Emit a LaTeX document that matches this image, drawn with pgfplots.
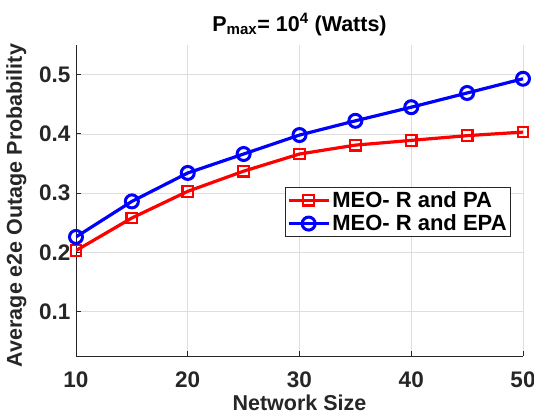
\documentclass[border=0pt]{standalone}
\usepackage{pgfplots}
\pgfplotsset{compat=1.18}
\usepackage{fontspec}
\setmainfont{Liberation Sans}
\definecolor{axgray}{rgb}{0.15,0.15,0.15}
\definecolor{gridgray}{rgb}{0.87,0.87,0.87}
\begin{document}
\begin{tikzpicture}
\path[use as bounding box] (-76pt,-62pt) rectangle (458pt,356pt);
\begin{axis}[
    scale only axis,
    width=447pt, height=311pt,
    xmin=10, xmax=50, ymin=0.025, ymax=0.55,
    xtick={10,20,30,40,50},
    ytick={0.1,0.2,0.3,0.4,0.5},
    axis x line*=bottom, axis y line*=left,
    axis line style={axgray, line width=0.8pt, -},
    tick style={axgray, line width=0.8pt},
    tick align=inside,
    major tick length=5pt,
    grid=major,
    major grid style={gridgray, line width=0.6pt},
    /pgf/number format/assume math mode=true,
    /pgf/number format/fixed,
    ticklabel style={font=\fontsize{22.5}{26}\selectfont\bfseries, text=axgray},
    xticklabel style={yshift=-12pt},
    yticklabel style={xshift=-2pt},
    xlabel={Network Size},
    ylabel={Average e2e Outage Probability},
    label style={font=\fontsize{21.5}{25}\selectfont\bfseries, text=axgray},
    xlabel style={yshift=-1pt},
    ylabel style={yshift=6pt, xshift=-5pt},
    title={P\textsubscript{max}= 10\textsuperscript{4} (Watts)},
    title style={font=\fontsize{21.5}{25}\selectfont\bfseries, yshift=0pt},
    legend style={at={(0.973,0.543)}, anchor=north east,
        font=\fontsize{22}{25}\selectfont\bfseries,
        draw=axgray, line width=0.6pt, inner sep=2pt,
        row sep=2pt},
    legend cell align=left,
    legend image code/.code={
        \draw[mark repeat=2,mark phase=2] plot coordinates {(0pt,0pt) (20pt,0pt) (40pt,0pt)};},
]
\addplot[red, line width=3.2pt, mark=square, mark size=5.3pt,
    mark options={fill=white, line width=2.2pt, solid}]
    coordinates {(10,0.203) (15,0.258) (20,0.303) (25,0.337) (30,0.366)
                 (35,0.381) (40,0.389) (45,0.397) (50,0.403)};
\addlegendentry{MEO- R and PA}
\addplot[blue, line width=3.2pt, mark=o, mark size=6.5pt,
    mark options={fill=white, line width=3pt, solid}]
    coordinates {(10,0.226) (15,0.286) (20,0.334) (25,0.366) (30,0.398)
                 (35,0.422) (40,0.445) (45,0.469) (50,0.493)};
\addlegendentry{MEO- R and EPA}
\end{axis}
\end{tikzpicture}
\end{document}
